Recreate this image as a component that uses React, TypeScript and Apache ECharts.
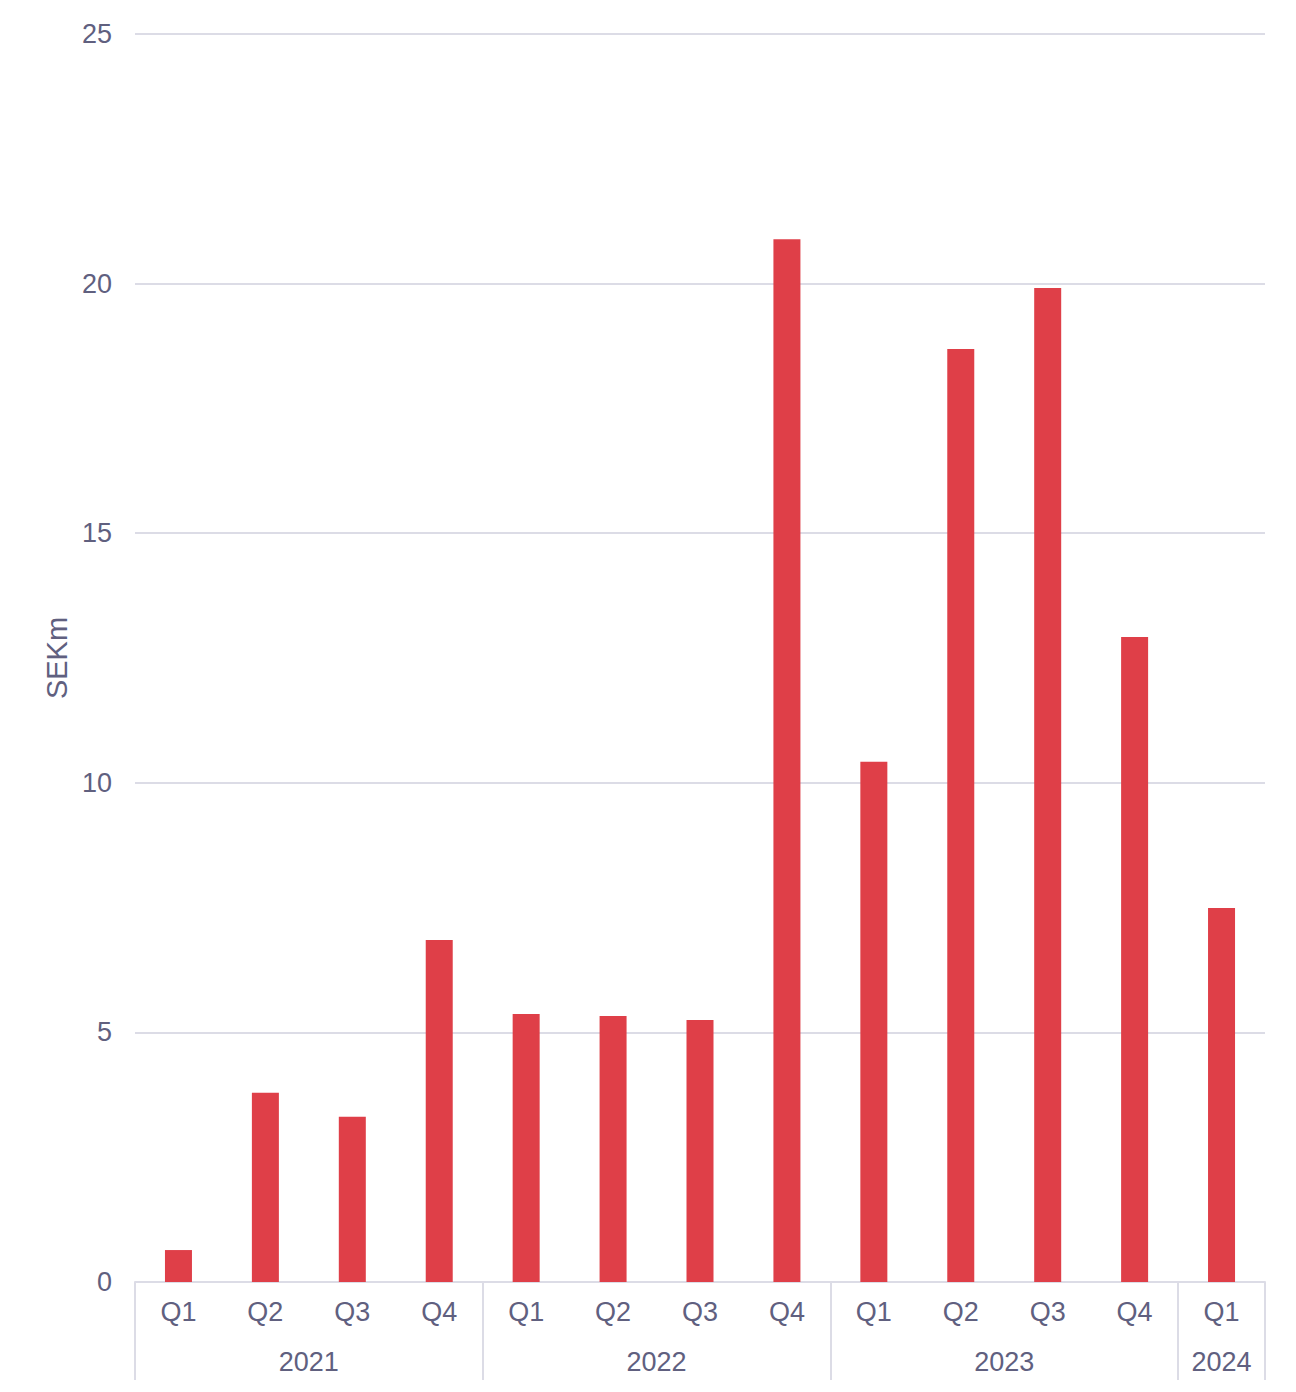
import React, { useEffect, useRef } from "react";
import * as echarts from "echarts";

const quarters = ["Q1", "Q2", "Q3", "Q4", "Q1", "Q2", "Q3", "Q4", "Q1", "Q2", "Q3", "Q4", "Q1"];
const values = [0.64, 3.79, 3.31, 6.85, 5.37, 5.33, 5.25, 20.89, 10.42, 18.69, 19.91, 12.92, 7.49];
// year labels placed on boundary positions (0..26 half-steps)
const yearLabels = ["2021", "2022", "2023", "2024"];
const yearPositions = [4, 12, 20, 25];
const yearBoundaries = [0, 4, 8, 12];

const TEXT = "#60607f";
const GRID = "#dcdce6";
const BAR = "#df3f48";
const FONT = "Liberation Sans, Arial, sans-serif";

export default function App() {
  const ref = useRef<HTMLDivElement>(null);
  useEffect(() => {
    if (!ref.current) return;
    const chart = echarts.init(ref.current, null, { renderer: "svg" });
    const halfSteps: string[] = [];
    for (let i = 0; i <= 26; i++) {
      const k = yearPositions.indexOf(i);
      halfSteps.push(k >= 0 ? yearLabels[k] : "");
    }
    chart.setOption({
      animation: false,
      grid: { left: 135, right: 31, top: 34, bottom: 110 },
      xAxis: [
        {
          type: "category",
          data: quarters,
          axisLine: { show: true, lineStyle: { color: GRID, width: 2 } },
          axisTick: {
            show: true,
            length: 98,
            interval: (index: number) => yearBoundaries.indexOf(index) >= 0,
            lineStyle: { color: GRID, width: 2 },
          },
          axisLabel: { color: TEXT, fontSize: 27, fontFamily: FONT, margin: 16, interval: 0 },
        },
        {
          type: "category",
          position: "bottom",
          boundaryGap: false,
          data: halfSteps,
          offset: 50,
          axisLine: { show: false },
          axisTick: { show: false },
          axisLabel: { color: TEXT, fontSize: 27, fontFamily: FONT, margin: 16, interval: 0 },
        },
      ],
      yAxis: {
        type: "value",
        min: 0,
        max: 25,
        interval: 5,
        name: "SEKm",
        nameLocation: "middle",
        nameGap: 64,
        nameTextStyle: { color: TEXT, fontSize: 29, fontFamily: FONT },
        axisLine: { show: false },
        axisTick: { show: false },
        axisLabel: { color: TEXT, fontSize: 27, fontFamily: FONT, margin: 23 },
        splitLine: { lineStyle: { color: GRID, width: 2 } },
      },
      series: [
        {
          type: "bar",
          data: values,
          barWidth: 27,
          itemStyle: { color: BAR },
        },
      ],
    });
    return () => chart.dispose();
  }, []);
  return (
    <div
      ref={ref}
      style={{ position: "fixed", left: 0, top: 0, width: 1296, height: 1392, background: "#fff" }}
    />
  );
}
